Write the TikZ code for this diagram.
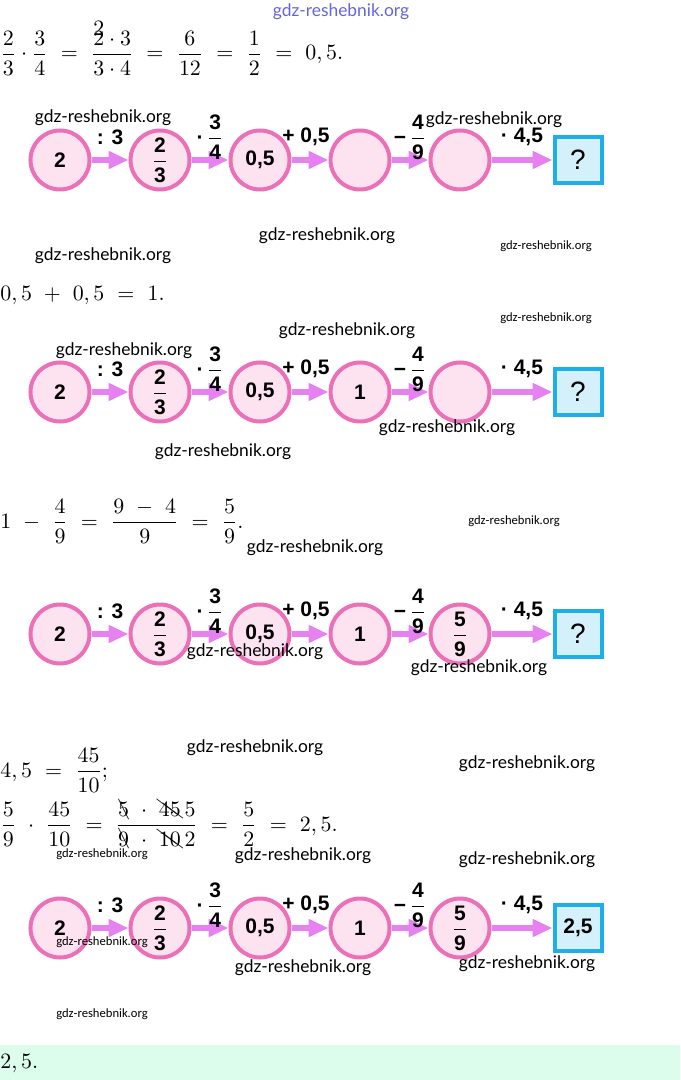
\documentclass[tikz,border=0pt]{standalone}
\usepackage{amsmath}
\usepackage{cancel}
\usepackage{fontspec}
\setsansfont{Liberation Sans}
\newfontfamily\wmfont{Lato}
\newfontfamily\wmsmall{Carlito}
\usetikzlibrary{positioning, arrows.meta}

\definecolor{ringpink}{RGB}{236,112,184}
\definecolor{fillpink}{RGB}{253,226,240}
\definecolor{arrowviolet}{RGB}{229,130,240}
\definecolor{boxblue}{RGB}{30,174,232}
\definecolor{fillblue}{RGB}{212,240,250}
\definecolor{bandgreen}{RGB}{220,252,236}
\definecolor{wmblue}{RGB}{100,100,225}

\newcommand{\bfr}[2]{$\genfrac{}{}{0.5pt}{0}{\textbf{#1}}{\textbf{#2}}$}

\begin{document}
\begin{tikzpicture}[x=0.5pt, y=-0.5pt, node distance=50pt,
numnode/.style={circle, draw=ringpink, fill=fillpink, line width=2pt, minimum size=29.5pt, inner sep=0pt, font=\sffamily\bfseries\fontsize{10.5}{11}\selectfont},
ansbox/.style={rectangle, draw=boxblue, fill=fillblue, line width=2pt, minimum width=23.5pt, minimum height=23pt, inner sep=0pt, font=\sffamily\fontsize{14}{15}\selectfont},
oparrow/.style={draw=arrowviolet, line width=3pt, -{Triangle[length=10pt,width=8.5pt]}},
oplabel/.style={midway, yshift=11.5pt, inner sep=0pt, font=\sffamily\bfseries\fontsize{10.5}{11}\selectfont},
mathline/.style={anchor=base west, inner sep=0pt, font=\fontsize{10.5}{12}\selectfont},
wmark/.style={inner sep=0pt, font=\wmfont\fontsize{8.7}{9}\selectfont},
wmarksmall/.style={inner sep=0pt, font=\wmsmall\fontsize{6.3}{7}\selectfont}]
\useasboundingbox (0,0) rectangle (680,1080);
\fill[bandgreen] (0,1045) rectangle (680,1080);

% worked steps
\node[mathline] (m1) at (0,60) {$\dfrac{2}{3}\cdot\dfrac{3}{4}\ =\ \dfrac{\smash[t]{\rlap{\raisebox{0.45em}{$2$}}2}\cdot 3}{3\cdot 4}\ =\ \dfrac{6}{12}\ =\ \dfrac{1}{2}\ =\ 0,5.$};
\node[mathline] (m2) at (0,300) {$0,5\ +\ 0,5\ =\ 1.$};
\node[mathline] (m3) at (0,528) {$1\ -\ \dfrac{4}{9}\ =\ \dfrac{9\ -\ 4}{9}\ =\ \dfrac{5}{9}.$};
\node[mathline] (m4) at (0,777) {$4,5\ =\ \dfrac{45}{10};$};
\node[mathline] (m5) at (0,831) {$\dfrac{5}{9}\ \cdot\ \dfrac{45}{10}\ =\ \dfrac{\bcancel{5}\ \cdot\ \bcancel{45}\,5}{\bcancel{9}\ \cdot\ \bcancel{10}\,2}\ =\ \dfrac{5}{2}\ =\ 2,5.$};
\node[mathline] (m6) at (0,1068) {$2,5.$};

% chain 1
\node[numnode] (a1) at (60,160) {2};
\node[numnode] (a2) [right of=a1] {\bfr{2}{3}};
\node[numnode] (a3) [right of=a2] {0,5};
\node[numnode] (a4) [right of=a3] {};
\node[numnode] (a5) [right of=a4] {};
\node[ansbox] (a6) [right of=a5, node distance=59pt] {?};
\draw[oparrow] (a1) -- node[oplabel] {: 3} (a2);
\draw[oparrow] (a2) -- node[oplabel] {·\,\bfr{3}{4}} (a3);
\draw[oparrow] (a3) -- node[oplabel, xshift=-2pt] {+ 0,5} (a4);
\draw[oparrow] (a4) -- node[oplabel] {−\,\bfr{4}{9}} (a5);
\draw[oparrow] (a5) -- node[oplabel] {· 4,5} (a6);

% chain 2
\node[numnode] (b1) at (60,392) {2};
\node[numnode] (b2) [right of=b1] {\bfr{2}{3}};
\node[numnode] (b3) [right of=b2] {0,5};
\node[numnode] (b4) [right of=b3] {1};
\node[numnode] (b5) [right of=b4] {};
\node[ansbox] (b6) [right of=b5, node distance=59pt] {?};
\draw[oparrow] (b1) -- node[oplabel] {: 3} (b2);
\draw[oparrow] (b2) -- node[oplabel] {·\,\bfr{3}{4}} (b3);
\draw[oparrow] (b3) -- node[oplabel, xshift=-2pt] {+ 0,5} (b4);
\draw[oparrow] (b4) -- node[oplabel] {−\,\bfr{4}{9}} (b5);
\draw[oparrow] (b5) -- node[oplabel] {· 4,5} (b6);

% chain 3
\node[numnode] (c1) at (60,634) {2};
\node[numnode] (c2) [right of=c1] {\bfr{2}{3}};
\node[numnode] (c3) [right of=c2] {0,5};
\node[numnode] (c4) [right of=c3] {1};
\node[numnode] (c5) [right of=c4] {\bfr{5}{9}};
\node[ansbox] (c6) [right of=c5, node distance=59pt] {?};
\draw[oparrow] (c1) -- node[oplabel] {: 3} (c2);
\draw[oparrow] (c2) -- node[oplabel] {·\,\bfr{3}{4}} (c3);
\draw[oparrow] (c3) -- node[oplabel, xshift=-2pt] {+ 0,5} (c4);
\draw[oparrow] (c4) -- node[oplabel] {−\,\bfr{4}{9}} (c5);
\draw[oparrow] (c5) -- node[oplabel] {· 4,5} (c6);

% chain 4
\node[numnode] (d1) at (60,928) {2};
\node[numnode] (d2) [right of=d1] {\bfr{2}{3}};
\node[numnode] (d3) [right of=d2] {0,5};
\node[numnode] (d4) [right of=d3] {1};
\node[numnode] (d5) [right of=d4] {\bfr{5}{9}};
\node[ansbox, font=\sffamily\bfseries\fontsize{10.5}{11}\selectfont] (d6) [right of=d5, node distance=59pt] {2,5};
\draw[oparrow] (d1) -- node[oplabel] {: 3} (d2);
\draw[oparrow] (d2) -- node[oplabel] {·\,\bfr{3}{4}} (d3);
\draw[oparrow] (d3) -- node[oplabel, xshift=-2pt] {+ 0,5} (d4);
\draw[oparrow] (d4) -- node[oplabel] {−\,\bfr{4}{9}} (d5);
\draw[oparrow] (d5) -- node[oplabel] {· 4,5} (d6);

% watermarks
\node[wmark, text=wmblue] (w1) at (341,12) {gdz-reshebnik.org};
\node[wmark] (w2) at (103,118) {gdz-reshebnik.org};
\node[wmark] (w3) at (494,120) {gdz-reshebnik.org};
\node[wmark] (w4) at (327,236) {gdz-reshebnik.org};
\node[wmark] (w5) at (103,256) {gdz-reshebnik.org};
\node[wmarksmall] (w6) at (546,246) {gdz-reshebnik.org};
\node[wmarksmall] (w7) at (546,318) {gdz-reshebnik.org};
\node[wmark] (w8) at (347,331) {gdz-reshebnik.org};
\node[wmark] (w9) at (124,351) {gdz-reshebnik.org};
\node[wmark] (w10) at (447,428) {gdz-reshebnik.org};
\node[wmark] (w11) at (223,452) {gdz-reshebnik.org};
\node[wmarksmall] (w12) at (514,521) {gdz-reshebnik.org};
\node[wmark] (w13) at (315,548) {gdz-reshebnik.org};
\node[wmark] (w14) at (255,652) {gdz-reshebnik.org};
\node[wmark] (w15) at (479,668) {gdz-reshebnik.org};
\node[wmark] (w16) at (255,748) {gdz-reshebnik.org};
\node[wmark] (w17) at (527,764) {gdz-reshebnik.org};
\node[wmarksmall] (w18) at (102,854) {gdz-reshebnik.org};
\node[wmark] (w19) at (303,856) {gdz-reshebnik.org};
\node[wmark] (w20) at (527,860) {gdz-reshebnik.org};
\node[wmarksmall] (w21) at (102,942) {gdz-reshebnik.org};
\node[wmark] (w22) at (303,968) {gdz-reshebnik.org};
\node[wmark] (w23) at (527,964) {gdz-reshebnik.org};
\node[wmarksmall] (w24) at (102,1014) {gdz-reshebnik.org};
\end{tikzpicture}
\end{document}
